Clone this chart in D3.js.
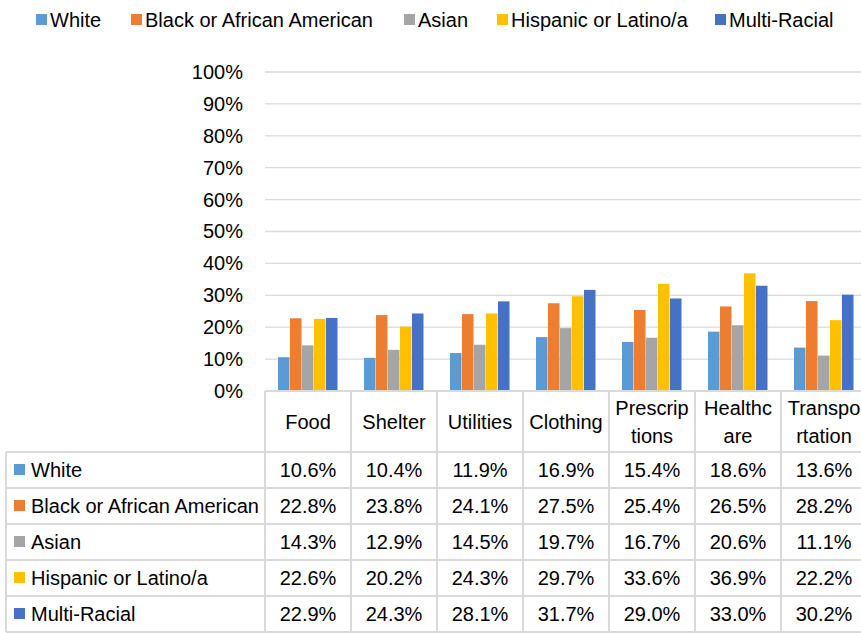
<!DOCTYPE html>
<html>
<head>
<meta charset="utf-8">
<script src="https://cdn.jsdelivr.net/npm/d3@7"></script>
<style>
  body { margin: 0; background: #fff; }
  svg { display: block; font-family: "Liberation Sans", Arial, sans-serif; }
</style>
</head>
<body>
<svg width="861" height="633"></svg>
<script>
const categories = ["Food", "Shelter", "Utilities", "Clothing", "Prescriptions", "Healthcare", "Transportation"];
const headerLines = [["Food"], ["Shelter"], ["Utilities"], ["Clothing"], ["Prescrip", "tions"], ["Healthc", "are"], ["Transpo", "rtation"]];
const seriesNames = ["White", "Black or African American", "Asian", "Hispanic or Latino/a", "Multi-Racial"];
const seriesColors = ["#5B9BD5", "#ED7D31", "#A5A5A5", "#FFC000", "#4472C4"];

const white    = [10.6, 10.4, 11.9, 16.9, 15.4, 18.6, 13.6];
const black    = [22.8, 23.8, 24.1, 27.5, 25.4, 26.5, 28.2];
const asian    = [14.3, 12.9, 14.5, 19.7, 16.7, 20.6, 11.1];
const hispanic = [22.6, 20.2, 24.3, 29.7, 33.6, 36.9, 22.2];
const multi    = [22.9, 24.3, 28.1, 31.7, 29.0, 33.0, 30.2];
const seriesValues = [white, black, asian, hispanic, multi];

const yTicks = [0, 0.1, 0.2, 0.3, 0.4, 0.5, 0.6, 0.7, 0.8, 0.9, 1.0];

const svg = d3.select("svg");
const fontSize = 20;
const gridColor = "#d9d9d9";

const plotLeft = 265, colW = 86;
const x = d3.scaleBand()
    .domain(categories)
    .range([plotLeft, plotLeft + colW * categories.length]);
const xInner = d3.scaleBand()
    .domain(seriesNames)
    .range([13, 73]);
const y = d3.scaleLinear().domain([0, 1]).range([391, 72]);

// gridlines
svg.append("g")
    .selectAll("line")
    .data(yTicks.filter(d => d > 0))
    .enter()
    .append("line")
    .attr("x1", plotLeft)
    .attr("x2", 861)
    .attr("y1", d => y(d))
    .attr("y2", d => y(d))
    .attr("stroke", gridColor)
    .attr("stroke-width", 1.3);

// y axis labels
const yAxis = d3.axisLeft(y)
    .tickValues(yTicks)
    .tickFormat(d3.format(".0%"))
    .tickSize(0)
    .tickPadding(22);
const yg = svg.append("g")
    .attr("transform", `translate(${plotLeft},0)`)
    .call(yAxis);
yg.select(".domain").remove();
yg.selectAll("text")
    .attr("font-size", fontSize)
    .attr("font-family", "Liberation Sans, Arial, sans-serif")
    .attr("fill", "#000");

// bars
const rows = seriesNames.map((name, i) => ({ name, color: seriesColors[i], values: seriesValues[i] }));
const groups = svg.append("g")
    .selectAll("g")
    .data(rows)
    .enter()
    .append("g")
    .attr("fill", d => d.color);
groups.selectAll("rect")
    .data(d => d.values.map((v, j) => ({ name: d.name, cat: categories[j], v })))
    .enter()
    .append("rect")
    .attr("x", d => x(d.cat) + xInner(d.name))
    .attr("width", xInner.bandwidth() - 0.5)
    .attr("y", d => y(d.v / 100))
    .attr("height", d => y(0) - y(d.v / 100));

// data table
const tableTop = 391, headerBottom = 452, rowH = 36, tableLeft = 6;
const tableBottom = headerBottom + rowH * seriesNames.length;
const tbl = svg.append("g")
    .attr("stroke", gridColor)
    .attr("stroke-width", 2);
tbl.append("line")
    .attr("x1", plotLeft).attr("x2", 861)
    .attr("y1", tableTop).attr("y2", tableTop);
tbl.selectAll(".hline")
    .data(d3.range(seriesNames.length + 1))
    .enter()
    .append("line")
    .attr("x1", tableLeft).attr("x2", 861)
    .attr("y1", i => headerBottom + i * rowH)
    .attr("y2", i => headerBottom + i * rowH);
tbl.append("line")
    .attr("x1", tableLeft).attr("x2", tableLeft)
    .attr("y1", headerBottom).attr("y2", tableBottom);
tbl.selectAll(".vline")
    .data(categories)
    .enter()
    .append("line")
    .attr("x1", d => x(d)).attr("x2", d => x(d))
    .attr("y1", tableTop).attr("y2", tableBottom);

// header labels
const head = svg.append("g")
    .attr("font-size", fontSize)
    .attr("text-anchor", "middle");
head.selectAll("text")
    .data(categories)
    .enter()
    .append("text")
    .attr("x", d => x(d) + colW / 2)
    .attr("y", 0)
    .each(function (d, i) {
        const lines = headerLines[i];
        const t = d3.select(this);
        const mid = (tableTop + headerBottom) / 2;
        lines.forEach((ln, k) => {
            t.append("tspan")
                .attr("x", x(d) + colW / 2)
                .attr("y", mid + (k - (lines.length - 1) / 2) * 28)
                .attr("dy", "0.35em")
                .text(ln);
        });
    });

// row labels and values
const body = svg.append("g").attr("font-size", fontSize);
const rowG = body.selectAll("g")
    .data(rows)
    .enter()
    .append("g")
    .attr("transform", (d, i) => `translate(0,${headerBottom + i * rowH + rowH / 2})`);
rowG.append("rect")
    .attr("x", 14).attr("y", -6)
    .attr("width", 11).attr("height", 11)
    .attr("fill", d => d.color);
rowG.append("text")
    .attr("x", 31)
    .attr("dy", "0.35em")
    .text(d => d.name);
rowG.selectAll(".val")
    .data(d => d.values)
    .enter()
    .append("text")
    .attr("class", "val")
    .attr("x", (v, j) => x(categories[j]) + colW / 2)
    .attr("dy", "0.35em")
    .attr("text-anchor", "middle")
    .text(v => v.toFixed(1) + "%");

// legend
const legendX = [36, 131, 404, 497, 715];
const legend = svg.append("g")
    .attr("font-size", fontSize)
    .attr("transform", "translate(0,20)");
const li = legend.selectAll("g")
    .data(rows)
    .enter()
    .append("g")
    .attr("transform", (d, i) => `translate(${legendX[i]},0)`);
li.append("rect")
    .attr("x", 0).attr("y", -6)
    .attr("width", 11).attr("height", 11)
    .attr("fill", d => d.color);
li.append("text")
    .attr("x", 14)
    .attr("dy", "0.35em")
    .text(d => d.name);
</script>
</body>
</html>
